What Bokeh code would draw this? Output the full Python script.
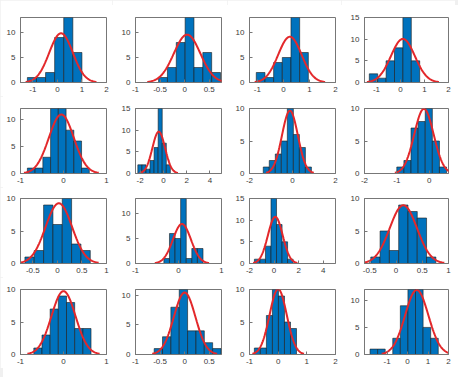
import numpy as np
from bokeh.plotting import figure
from bokeh.layouts import gridplot
from bokeh.models import Range1d, FixedTicker, NumeralTickFormatter
from bokeh.embed import file_html
from bokeh.resources import INLINE

# ---- data (one entry per panel, row-major 4x4) ----
x_limits = [(-1.5, 2), (-1, 0.75), (-1.3, 2), (-1.5, 2),
            (-1, 1), (-2.4, 5), (-2, 2), (-2, 0.6),
            (-0.75, 1), (-1, 1), (-2, 5), (-0.6, 1),
            (-1, 1), (-1, 0.75), (-1, 2), (-2.1, 2)]
x_ticks = [[-1, 0, 1, 2], [-1, -0.5, 0, 0.5], [-1, 0, 1, 2], [-1, 0, 1, 2],
           [-1, 0, 1], [-2, 0, 2, 4], [-2, 0, 2], [-2, -1, 0],
           [-0.5, 0, 0.5, 1], [-1, 0, 1], [-2, 0, 2, 4], [-0.5, 0, 0.5, 1],
           [-1, 0, 1], [-1, -0.5, 0, 0.5], [-1, 0, 1, 2], [-1, 0, 1, 2]]
y_max = [13, 13, 13, 15,
         12, 15, 10, 10,
         10, 13, 15, 10,
         10, 11, 10, 12]
bin_start = [-1.22, -0.53, -1.04, -1.30,
             -0.84, -2.2, -1.36, -1.0,
             -0.66, -0.34, -1.6, -0.48,
             -0.69, -0.62, -0.83, -1.83]
bin_width = [0.37, 0.18, 0.333, 0.35,
             0.18, 0.35, 0.28, 0.22,
             0.19, 0.13, 0.45, 0.177,
             0.19, 0.17, 0.21, 0.37]
counts = [[1, 1, 2, 9, 13, 6], [1, 3, 8, 13, 3, 6, 2], [2, 1, 4, 5, 13, 6], [2, 1, 5, 8, 15, 5],
          [1, 1, 3, 12, 12, 8, 6, 1], [2, 2, 1, 3, 6, 15, 7, 2], [1, 2, 3, 5, 10, 6, 4, 1], [1, 2, 7, 8, 10, 5, 1],
          [1, 2, 9, 6, 10, 3, 2], [1, 6, 5, 13, 1, 3, 3], [1, 1, 4, 15, 9, 5, 1], [1, 5, 2, 9, 8, 7, 1],
          [1, 3, 7, 9, 8, 4, 4], [1, 3, 8, 11, 4, 4, 2, 1], [1, 1, 6, 10, 9, 5, 4], [1, 1, 0, 3, 9, 12, 12, 5, 3]]
fit_mu = [0.15, 0.05, 0.25, 0.1,
          -0.05, -0.4, -0.12, -0.16,
          0.03, 0.08, 0.1, 0.14,
          0.0, 0.0, 0.0, 0.45]
fit_sigma = [0.48, 0.27, 0.45, 0.5,
             0.29, 0.55, 0.37, 0.3,
             0.27, 0.21, 0.6, 0.26,
             0.28, 0.22, 0.3, 0.57]

# ---- layout geometry (page is offset 3px left / 5px top) ----
col_w = [112, 115, 114, 114]
col_left = [20, 23, 22, 23]
frame_w = [86, 86, 86, 84]
row_h = [96, 91, 90, 91]
row_top = [17, 12, 11, 12]
frame_h = 65

BAR = "#0072BD"
EDGE = "#1c1c1c"
FIT = "#e3282b"
AX = "#777777"

grid = []
for r in range(4):
    grid_row = []
    for c in range(4):
        i = r * 4 + c
        p = figure(width=col_w[c], height=row_h[r],
                   x_range=Range1d(*x_limits[i]), y_range=Range1d(0, y_max[i]),
                   output_backend="svg", toolbar_location=None,
                   min_border_left=col_left[c],
                   min_border_right=col_w[c] - col_left[c] - frame_w[c],
                   min_border_top=row_top[r],
                   min_border_bottom=row_h[r] - row_top[r] - frame_h)
        p.background_fill_color = "white"
        p.border_fill_color = "white"
        p.outline_line_color = AX
        p.outline_line_width = 1
        p.xgrid.visible = False
        p.ygrid.visible = False

        cnt = np.array(counts[i], dtype=float)
        bw = bin_width[i]
        edges = bin_start[i] + bw * np.arange(len(cnt) + 1)
        p.quad(left=edges[:-1], right=edges[1:], bottom=0, top=cnt,
               fill_color=BAR, line_color=EDGE, line_width=0.6)

        mu, sd = fit_mu[i], fit_sigma[i]
        xs = np.linspace(mu - 3 * sd, mu + 3 * sd, 120)
        ys = cnt.sum() * bw * np.exp(-0.5 * ((xs - mu) / sd) ** 2) / (sd * np.sqrt(2 * np.pi))
        p.line(xs, ys, line_color=FIT, line_width=2)

        yt = [0, 5, 10] + ([15] if y_max[i] >= 15 else [])
        p.xaxis.ticker = FixedTicker(ticks=x_ticks[i])
        p.yaxis.ticker = FixedTicker(ticks=yt)
        for ax in (p.xaxis[0], p.yaxis[0]):
            ax.formatter = NumeralTickFormatter(format="0.[0]")
            ax.axis_line_color = AX
            ax.major_tick_line_color = AX
            ax.major_tick_in = 3
            ax.major_tick_out = 0
            ax.minor_tick_line_color = None
            ax.major_label_text_font = "Liberation Sans"
            ax.major_label_text_font_size = "8px"
            ax.major_label_text_color = "#3a3a3a"
        p.xaxis.major_label_standoff = 4
        p.yaxis.major_label_standoff = 5
        grid_row.append(p)
    grid.append(grid_row)

layout = gridplot(grid, toolbar_location=None)

html = file_html(layout, INLINE)
html = html.replace("</head>",
                    "<style>html{margin:0;padding:0;"
                    "background:linear-gradient(#f0f0f0 5px, transparent 5px),"
                    "linear-gradient(to right, #f0f0f0 3px, #ffffff 3px);}"
                    "body{margin:5px 0 0 3px;padding:0;background:transparent;}</style></head>", 1)
open("out.html", "w").write(html)
